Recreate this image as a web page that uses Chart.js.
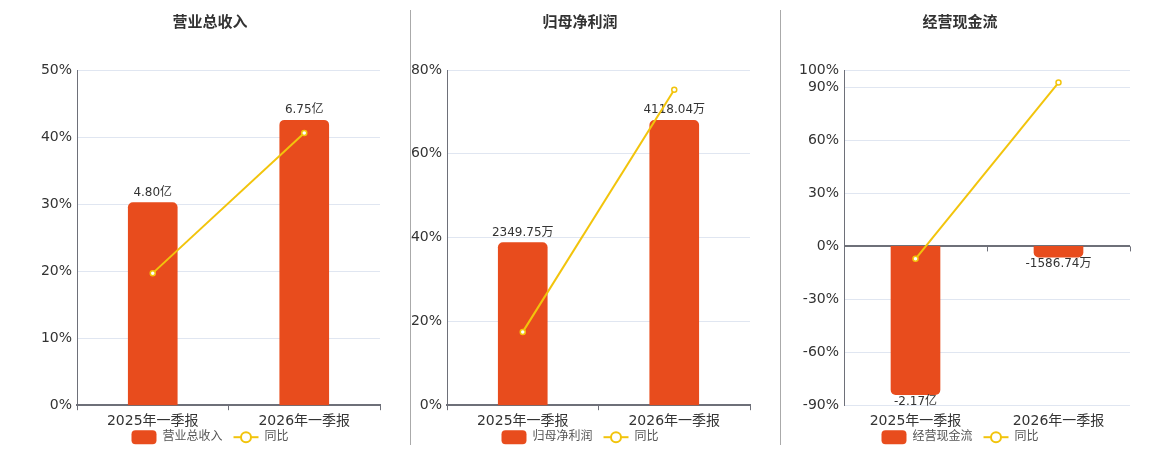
<!DOCTYPE html>
<html>
<head>
<meta charset="utf-8">
<script src="https://cdn.jsdelivr.net/npm/chart.js@4.4.1/dist/chart.umd.min.js"></script>
<style>
  body { margin: 0; background: #fff; }
  #wrap { position: relative; width: 1160px; height: 450px; }
  .panel { position: absolute; top: 0; height: 450px; }
  .sep { position: absolute; top: 10px; height: 435px; width: 1px; background: #aaa; z-index: 2; }
</style>
</head>
<body>
<div id="wrap">
  <div class="panel" style="left:0;width:410px"><canvas id="c1"></canvas></div>
  <div class="panel" style="left:405px;width:375px"><canvas id="c2"></canvas></div>
  <div class="panel" style="left:781px;width:379px"><canvas id="c3"></canvas></div>
  <div class="sep" style="left:410px"></div>
  <div class="sep" style="left:780px"></div>
</div>
<script>
// data
const quarters = ["2025年一季报", "2026年一季报"];

const revenue = [4.80, 6.75]; // 亿
const revenueText = ["4.80亿", "6.75亿"];
const revenueYoY = [19.7, 40.6];

const profit = [2349.75, 4118.04]; // 万
const profitText = ["2349.75万", "4118.04万"];
const profitYoY = [17.5, 75.3];

const cashFlow = [-21700, -1586.74]; // 万
const cashFlowText = ["-2.17亿", "-1586.74万"];
const cashFlowYoY = [-7.0, 92.9];

const BAR = "#e84c1d";
const LINE = "#f2c40c";
const AXIS = "#6e7079";
const GRID = "#e0e6f1";
const FONT = '"DejaVu Sans", "Noto Sans CJK SC", sans-serif';

Chart.defaults.font.family = FONT;
Chart.defaults.color = "#333";

// value labels on the bars, drawn before the line
const barText = {
  id: "barText",
  afterDatasetDraw(chart, args, opts) {
    if (args.index !== 0) return;
    const g = chart.ctx;
    g.save();
    g.font = "12px " + FONT;
    g.fillStyle = "#333";
    g.textAlign = "center";
    args.meta.data.forEach((el, i) => {
      const v = chart.data.datasets[0].data[i];
      if (v >= 0) {
        g.textBaseline = "bottom";
        g.fillText(opts.texts[i], el.x, el.y - 4);
      } else {
        g.textBaseline = "top";
        g.fillText(opts.texts[i], el.x, el.y + 1);
      }
    });
    g.restore();
  }
};

// title, legend row and zero-line ticks
const frame = {
  id: "frame",
  afterDraw(chart, args, opts) {
    const g = chart.ctx;
    const area = chart.chartArea;
    g.save();
    g.fillStyle = "#333";
    g.font = "bold 15px " + FONT;
    g.textAlign = "center";
    g.textBaseline = "middle";
    g.fillText(opts.title, opts.cx, 23);

    if (opts.zeroTicks) {
      const y0 = chart.scales.y.getPixelForValue(0);
      const xs = chart.scales.x;
      g.strokeStyle = AXIS;
      g.lineWidth = 1;
      const marks = [area.left, (xs.getPixelForValue(0) + xs.getPixelForValue(1)) / 2, area.right];
      marks.forEach((x) => {
        x = Math.round(x) + 0.5;
        g.beginPath(); g.moveTo(x, y0); g.lineTo(x, y0 + 5); g.stroke();
      });
    }

    g.font = "12px " + FONT;
    const w1 = g.measureText(opts.title).width;
    const w2 = g.measureText("同比").width;
    const total = 25 + 6 + w1 + 11 + 25 + 6 + w2;
    let x = opts.cx - total / 2;
    const y = area.bottom + 32;
    g.fillStyle = BAR;
    g.beginPath(); g.roundRect(x, y - 7, 25, 14, 4); g.fill();
    x += 31;
    g.fillStyle = "#555";
    g.textAlign = "left";
    g.fillText(opts.title, x, y);
    x += w1 + 11;
    g.strokeStyle = LINE;
    g.lineWidth = 2;
    g.beginPath(); g.moveTo(x, y); g.lineTo(x + 25, y); g.stroke();
    g.fillStyle = "#fff";
    g.beginPath(); g.arc(x + 12.5, y, 5, 0, Math.PI * 2); g.fill(); g.stroke();
    x += 31;
    g.fillStyle = "#555";
    g.fillText("同比", x, y);
    g.restore();
  }
};

function makeChart(id, o) {
  const negative = o.yMin < 0;
  return new Chart(document.getElementById(id), {
    type: "bar",
    data: {
      labels: quarters,
      datasets: [
        { label: o.title, data: o.bars, yAxisID: "yb", backgroundColor: BAR, barThickness: 49, borderRadius: 5, borderSkipped: "start", order: 1 },
        { type: "line", label: "同比", data: o.yoy, yAxisID: "y", borderColor: LINE, borderWidth: 2, pointRadius: 2.5, pointBorderWidth: 1.5, pointBackgroundColor: "#fff", pointBorderColor: LINE, order: 0 }
      ]
    },
    options: {
      responsive: true,
      maintainAspectRatio: false,
      animation: false,
      layout: { padding: { left: 0, right: 30, top: 70, bottom: 17 } },
      scales: {
        x: {
          offset: true,
          grid: { offset: true, drawOnChartArea: false, tickLength: 5, color: negative ? "rgba(0,0,0,0)" : AXIS },
          border: { display: !negative, color: AXIS, width: 2 },
          ticks: { font: { size: 14 }, color: "#333", padding: 3 }
        },
        y: {
          min: o.yMin, max: o.yMax,
          afterFit: (s) => { s.width = o.axisWidth; },
          ticks: { stepSize: o.step, padding: 5, font: { size: 14 }, color: "#333", callback: (v) => v + "%" },
          grid: {
            drawTicks: false,
            color: (c) => (c.tick.value === 0 ? (negative ? AXIS : "rgba(0,0,0,0)") : GRID),
            lineWidth: (c) => (c.tick.value === 0 && negative ? 2 : 1)
          },
          border: { color: AXIS, width: 1 }
        },
        yb: { display: false, min: o.barMin, max: o.barMax }
      },
      plugins: {
        legend: { display: false },
        title: { display: false },
        tooltip: { enabled: false },
        barText: { texts: o.texts },
        frame: { title: o.title, cx: o.cx, zeroTicks: negative }
      }
    },
    plugins: [barText, frame]
  });
}

makeChart("c1", { title: "营业总收入", bars: revenue, texts: revenueText, yoy: revenueYoY, yMin: 0, yMax: 50, step: 10, barMin: 0, barMax: 7.94, axisWidth: 77, cx: 210 });
makeChart("c2", { title: "归母净利润", bars: profit, texts: profitText, yoy: profitYoY, yMin: 0, yMax: 80, step: 20, barMin: 0, barMax: 4845, axisWidth: 42, cx: 175 });
makeChart("c3", { title: "经营现金流", bars: cashFlow, texts: cashFlowText, yoy: cashFlowYoY, yMin: -90, yMax: 100, step: 30, barMin: -23250, barMax: 25833, axisWidth: 63, cx: 179 });
</script>
</body>
</html>
